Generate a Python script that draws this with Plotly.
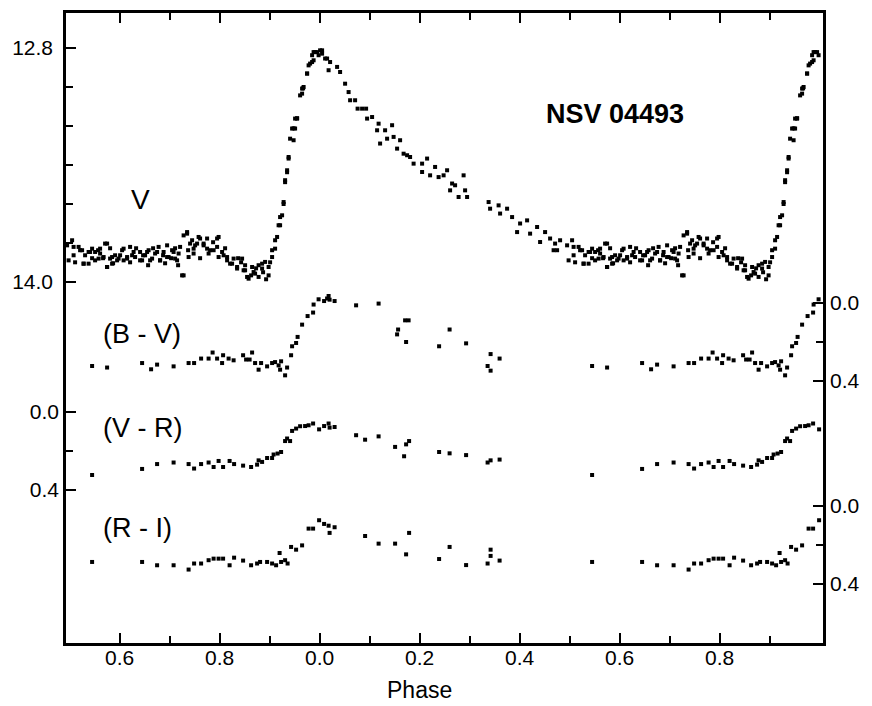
import plotly.graph_objects as go

# ---------------- data (phase, value) ----------------
# V magnitude
v_phase = [
    0.001, 0.005, 0.005, 0.011, 0.015, 0.018, 0.021, 0.035, 0.041, 0.051,
    0.058, 0.061, 0.071, 0.076, 0.085, 0.093, 0.095, 0.105, 0.115, 0.118,
    0.121, 0.131, 0.135, 0.145, 0.148, 0.155, 0.161, 0.168, 0.175, 0.181,
    0.188, 0.205, 0.215, 0.205, 0.221, 0.231, 0.238, 0.248, 0.255, 0.265,
    0.271, 0.288, 0.261, 0.278, 0.291, 0.295, 0.338, 0.341, 0.358, 0.361,
    0.375, 0.385, 0.395, 0.401, 0.415, 0.421, 0.435, 0.441, 0.451, 0.461,
    0.471, 0.468, 0.481, 0.475, 0.495, 0.498,
    # 0.5 - 0.9 (right copy)
    0.508, 0.521, 0.528, 0.541, 0.538, 0.551, 0.561, 0.575, 0.575, 0.585,
    0.595, 0.608, 0.615, 0.628, 0.641, 0.655, 0.661, 0.675, 0.681, 0.695,
    0.698, 0.708, 0.715, 0.728, 0.721, 0.735, 0.741, 0.748, 0.758, 0.768,
    0.775, 0.781, 0.798, 0.795, 0.805, 0.815, 0.825, 0.835, 0.848, 0.858,
    0.868, 0.878, 0.885, 0.898,
    0.567, 0.581, 0.587, 0.601, 0.621, 0.633, 0.647, 0.657, 0.667, 0.687,
    0.691, 0.703, 0.711, 0.717, 0.737, 0.751, 0.761, 0.787, 0.811, 0.837,
    0.843, 0.851, 0.863, 0.873, 0.887, 0.893, 0.901, 0.511, 0.531, 0.545,
    0.557,
    # 0.5 - 0.9 (left copy)
    0.505, 0.508, 0.518, 0.525, 0.528, 0.538, 0.545, 0.551, 0.558, 0.561,
    0.568, 0.571, 0.575, 0.581, 0.585, 0.591, 0.598, 0.605, 0.608, 0.615,
    0.621, 0.625, 0.631, 0.641, 0.645, 0.651, 0.658, 0.665, 0.671, 0.678,
    0.681, 0.688, 0.695, 0.705, 0.711, 0.718, 0.725, 0.728, 0.735, 0.738,
    0.745, 0.748, 0.755, 0.761, 0.768, 0.775, 0.778, 0.788, 0.795, 0.798,
    0.808, 0.815, 0.821, 0.828, 0.835, 0.845, 0.851, 0.855, 0.865, 0.871,
    0.878, 0.885, 0.891, 0.898,
    # rising branch
    0.905, 0.911, 0.918, 0.921, 0.928, 0.931, 0.935, 0.938, 0.941, 0.945,
    0.948, 0.951, 0.955, 0.961, 0.965, 0.967, 0.975, 0.978, 0.985, 0.985,
    0.988, 0.995,
    0.905, 0.911, 0.915, 0.921, 0.925, 0.928, 0.931, 0.935, 0.938, 0.948,
    0.951, 0.955, 0.965, 0.968, 0.975, 0.981, 0.988, 0.991, 0.998,
]
v_mag = [
    12.812, 12.829, 12.812, 12.854, 12.854, 12.914, 12.872, 12.897, 12.923, 12.983,
    13.026, 13.068, 13.068, 13.111, 13.111, 13.111, 13.162, 13.154, 13.222, 13.188,
    13.290, 13.222, 13.265, 13.196, 13.256, 13.316, 13.273, 13.342, 13.350, 13.359,
    13.393, 13.393, 13.367, 13.436, 13.453, 13.410, 13.462, 13.453, 13.427, 13.495,
    13.504, 13.453, 13.530, 13.564, 13.530, 13.564, 13.590, 13.624, 13.607, 13.649,
    13.624, 13.667, 13.744, 13.700, 13.684, 13.752, 13.718, 13.795, 13.744, 13.777,
    13.803, 13.837, 13.786, 13.837, 13.812, 13.889,
    13.820, 13.837, 13.906, 13.846, 13.906, 13.889, 13.854, 13.803, 13.923, 13.872,
    13.889, 13.829, 13.872, 13.846, 13.889, 13.846, 13.889, 13.846, 13.889, 13.812,
    13.872, 13.846, 13.889, 13.966, 13.820, 13.752, 13.803, 13.854, 13.769, 13.812,
    13.777, 13.837, 13.769, 13.820, 13.846, 13.872, 13.906, 13.923, 13.940, 13.983,
    13.949, 13.974, 13.906, 13.923,
    13.878, 13.827, 13.904, 13.863, 13.899, 13.827, 13.863, 13.914, 13.827, 13.863,
    13.904, 13.878, 13.827, 13.914, 13.837, 13.812, 13.878, 13.796, 13.827, 13.878,
    13.899, 13.914, 13.966, 13.930, 13.950, 13.986, 13.899, 13.899, 13.863, 13.878,
    13.837,
    13.786, 13.863, 13.820, 13.837, 13.906, 13.846, 13.829, 13.846, 13.880, 13.829,
    13.872, 13.803, 13.923, 13.880, 13.906, 13.863, 13.880, 13.837, 13.889, 13.880,
    13.820, 13.863, 13.872, 13.846, 13.889, 13.863, 13.837, 13.880, 13.854, 13.820,
    13.889, 13.846, 13.872, 13.837, 13.880, 13.854, 13.966, 13.761, 13.744, 13.872,
    13.786, 13.829, 13.803, 13.777, 13.803, 13.829, 13.854, 13.837, 13.777, 13.872,
    13.863, 13.889, 13.906, 13.880, 13.931, 13.880, 13.940, 13.974, 13.923, 13.957,
    13.914, 13.931, 13.897, 13.966,
    13.837, 13.786, 13.709, 13.667, 13.590, 13.478, 13.427, 13.359, 13.265, 13.213,
    13.212, 13.162, 13.160, 13.043, 13.008, 13.007, 12.931, 12.889, 12.872, 12.837,
    12.821, 12.821,
    13.872, 13.829, 13.769, 13.709, 13.658, 13.600, 13.488, 13.437, 13.367, 13.273,
    13.213, 13.162, 13.034, 13.000, 12.931, 12.880, 12.863, 12.821, 12.837,
]

# B - V colour index
bv_phase = [
    0.009, 0.015, 0.018, 0.020, 0.030, 0.073, 0.118, 0.155, 0.157, 0.171,
    0.173, 0.178, 0.239, 0.260, 0.293, 0.336, 0.342, 0.342, 0.360,
    0.545, 0.575, 0.645, 0.663, 0.675, 0.708, 0.738, 0.749, 0.763, 0.778,
    0.786, 0.795, 0.807, 0.805, 0.818, 0.828, 0.847, 0.853, 0.860, 0.865,
    0.871, 0.878, 0.883, 0.895, 0.905, 0.911, 0.918, 0.921, 0.923, 0.935,
    0.931, 0.943, 0.945, 0.953, 0.956, 0.965, 0.976, 0.987, 0.988, 0.998,
]
bv = [
    -0.008, -0.021, -0.034, -0.015, -0.008, 0.014, 0.005, 0.163, 0.138, 0.091,
    0.202, 0.091, 0.224, 0.138, 0.209, 0.325, 0.264, 0.349, 0.287,
    0.325, 0.333, 0.310, 0.342, 0.318, 0.327, 0.310, 0.310, 0.287, 0.287,
    0.256, 0.287, 0.270, 0.310, 0.287, 0.296, 0.270, 0.292, 0.292, 0.256,
    0.310, 0.344, 0.310, 0.327, 0.310, 0.305, 0.322, 0.344, 0.301, 0.333,
    0.373, 0.270, 0.224, 0.207, 0.176, 0.113, 0.069, 0.051, 0.010, -0.017,
]

# V - R colour index
vr_phase = [
    0.009, 0.018, 0.020, 0.030, 0.073, 0.091, 0.118, 0.151, 0.169, 0.173,
    0.179, 0.239, 0.260, 0.293, 0.336, 0.342, 0.360,
    0.545, 0.645, 0.675, 0.708, 0.738, 0.749, 0.763, 0.778, 0.788, 0.798,
    0.807, 0.820, 0.829, 0.847, 0.863, 0.875, 0.878, 0.885, 0.895, 0.905,
    0.908, 0.916, 0.923, 0.931, 0.941, 0.935, 0.945, 0.953, 0.961, 0.971,
    0.978, 0.987, 0.999,
]
vr = [
    0.072, 0.059, 0.080, 0.077, 0.119, 0.142, 0.125, 0.179, 0.227, 0.166,
    0.149, 0.205, 0.212, 0.221, 0.259, 0.248, 0.244,
    0.323, 0.292, 0.267, 0.259, 0.267, 0.290, 0.267, 0.259, 0.282, 0.251,
    0.282, 0.251, 0.267, 0.275, 0.282, 0.270, 0.248, 0.256, 0.236, 0.236,
    0.218, 0.213, 0.205, 0.149, 0.149, 0.136, 0.097, 0.085, 0.073, 0.072,
    0.068, 0.059, 0.089,
]

# R - I colour index
ri_phase = [
    0.009, 0.018, 0.020, 0.030, 0.091, 0.118, 0.151, 0.173, 0.179, 0.239,
    0.260, 0.293, 0.336, 0.342, 0.342, 0.360,
    0.545, 0.645, 0.675, 0.708, 0.738, 0.749, 0.763, 0.778, 0.788, 0.798,
    0.807, 0.820, 0.829, 0.847, 0.863, 0.875, 0.881, 0.895, 0.905, 0.913,
    0.920, 0.923, 0.931, 0.936, 0.943, 0.953, 0.965, 0.978, 0.987, 0.999,
]
ri = [
    0.092, 0.101, 0.138, 0.109, 0.154, 0.193, 0.193, 0.248, 0.138, 0.272,
    0.210, 0.303, 0.295, 0.224, 0.256, 0.280,
    0.287, 0.287, 0.304, 0.304, 0.326, 0.295, 0.295, 0.278, 0.270, 0.270,
    0.270, 0.304, 0.265, 0.280, 0.304, 0.295, 0.287, 0.287, 0.295, 0.304,
    0.241, 0.287, 0.278, 0.295, 0.210, 0.224, 0.202, 0.116, 0.116, 0.073,
]

# x axis: phase shown twice (0.5 .. 1.0 then 0.0 .. 1.0)
x_major = [0.6, 0.8, 1.0, 1.2, 1.4, 1.6, 1.8]
x_major_text = ["0.6", "0.8", "0.0", "0.2", "0.4", "0.6", "0.8"]
x_minor = [0.7, 0.9, 1.1, 1.3, 1.5, 1.7, 1.9]


def fold(ph, vals, lo=0.49):
    xs, ys = [], []
    for p, v in zip(ph, vals):
        xs.append(p + 1.0)
        ys.append(v)
        if p >= lo:
            xs.append(p)
            ys.append(v)
    return xs, ys


mk = dict(symbol="square", size=4, color="black", line=dict(width=0))
fig = go.Figure()
for ph, vals, ax in [(v_phase, v_mag, "y"), (vr_phase, vr, "y2"),
                     (bv_phase, bv, "y3"), (ri_phase, ri, "y4")]:
    xs, ys = fold(ph, vals)
    fig.add_trace(go.Scatter(x=xs, y=ys, mode="markers", marker=mk,
                             yaxis=ax, showlegend=False, hoverinfo="skip"))

FONT = "Liberation Sans, Arial, sans-serif"
tickfont = dict(family=FONT, size=21, color="black")
common_y = dict(ticks="inside", ticklen=10, tickwidth=2, tickcolor="black",
                showgrid=False, zeroline=False, tickfont=tickfont,
                ticklabelstandoff=6)
minor_y = lambda vals: dict(tickvals=vals, ticks="inside", ticklen=7,
                            tickwidth=2, tickcolor="black", showgrid=False)

fig.update_layout(
    width=872, height=706,
    margin=dict(l=66, r=49, t=13, b=63, autoexpand=False),
    paper_bgcolor="white", plot_bgcolor="white",
    xaxis=dict(range=[0.4928, 2.0068], tickvals=x_major, ticktext=x_major_text,
               ticks="inside", ticklen=10, tickwidth=2, tickcolor="black",
               showline=True, linewidth=2.5, linecolor="black", mirror="ticks",
               showgrid=False, zeroline=False, tickfont=tickfont,
               ticklabelstandoff=-6,
               minor=dict(tickvals=x_minor, ticks="inside", ticklen=7,
                          tickwidth=2, tickcolor="black", showgrid=False)),
    yaxis=dict(range=[15.8513, 12.6205], tickvals=[12.8, 14.0],
               ticktext=["12.8", "14.0"], showline=True, linewidth=2.5,
               linecolor="black", mirror=True,
               minor=minor_y([13.0, 13.2, 13.4, 13.6, 13.8]), **common_y),
    yaxis2=dict(range=[1.1846, -2.0462], overlaying="y", side="left",
                anchor="x", tickvals=[0.0, 0.4], ticktext=["0.0", "0.4"],
                showline=False, minor=minor_y([0.2]), **common_y),
    yaxis3=dict(range=[1.7456, -1.4851], overlaying="y", side="right",
                anchor="x", tickvals=[0.0, 0.4], ticktext=["0.0", "0.4"],
                showline=False, minor=minor_y([0.2]), **common_y),
    yaxis4=dict(range=[0.7026, -2.5282], overlaying="y", side="right",
                anchor="x", tickvals=[0.0, 0.4], ticktext=["0.0", "0.4"],
                showline=False, minor=minor_y([0.2]), **common_y),
)

labels = [
    ("V", 0.0978, 0.704, 28),
    ("(B - V)", 0.1004, 0.490, 27),
    ("(V - R)", 0.1015, 0.3408, 27),
    ("(R - I)", 0.0938, 0.1829, 27),
]
for txt, xp, yp, fs in labels:
    fig.add_annotation(text=txt, x=xp, y=yp, xref="paper", yref="paper",
                       showarrow=False, xanchor="center", yanchor="middle",
                       font=dict(family=FONT, size=fs, color="black"))
fig.add_annotation(text="<b>NSV 04493</b>", x=0.7256, y=0.8402, xref="paper",
                   yref="paper", showarrow=False, xanchor="center",
                   yanchor="middle", font=dict(family=FONT, size=27, color="black"))
fig.add_annotation(text="Phase", x=1.2, y=-0.075, xref="x", yref="paper",
                   showarrow=False, xanchor="center", yanchor="middle",
                   font=dict(family=FONT, size=23, color="black"))

fig.write_html("out.html",
               config={"displayModeBar": False},
               post_script="document.body.style.margin='0px';"
                           "document.body.style.overflow='hidden';")
